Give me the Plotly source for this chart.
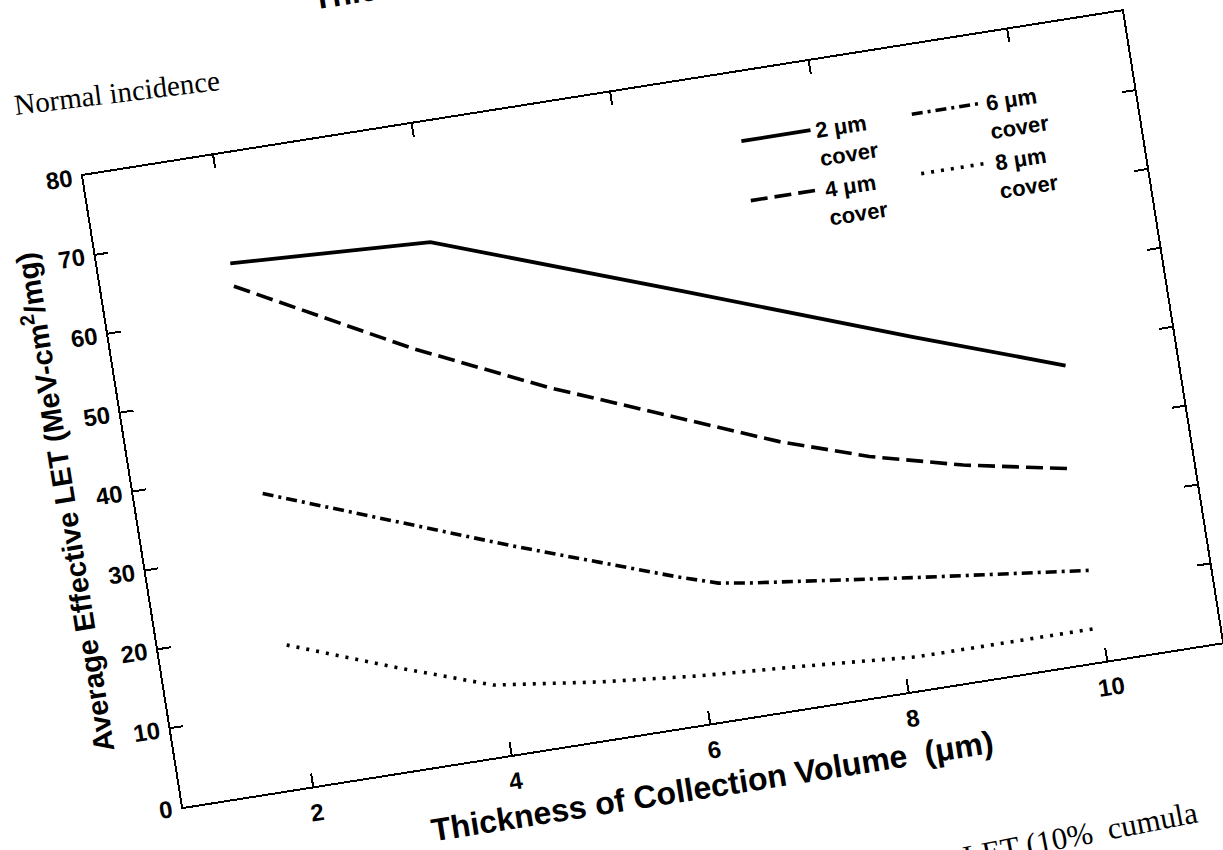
import plotly.graph_objects as go

# ---- data (x: collection-volume thickness in um, y: LET) ----
thickness_2um = [2.0, 4.0, 6.4, 8.6, 10.05]
let_2um = [66.3, 65.0, 54.0, 43.8, 37.3]

thickness_4um = [2.0, 3.66, 4.92, 6.22, 7.12, 7.98, 8.89, 9.96]
let_4um = [63.4, 52.2, 44.8, 38.1, 33.5, 29.9, 27.0, 24.4]

thickness_6um = [1.96, 4.34, 5.9, 6.3, 6.61, 8.26, 9.97]
let_6um = [37.2, 25.8, 18.8, 17.2, 16.6, 14.0, 11.5]

thickness_8um = [1.96, 3.04, 3.93, 4.98, 5.97, 6.97, 8.14, 9.96]
let_8um = [18.0, 12.9, 9.0, 7.3, 6.1, 5.3, 4.2, 4.2]

series_names = ["2 μm<br>cover", "4 μm<br>cover", "6 μm<br>cover", "8 μm<br>cover"]
x_tick_values = [2, 4, 6, 8, 10]
y_tick_values = [0, 10, 20, 30, 40, 50, 60, 70, 80]

# ---- figure ----
SANS = "Liberation Sans"
SERIF = "Liberation Serif"

fig = go.Figure()
styles = [
    dict(dash="solid", width=3.8),
    dict(dash="17px,7px", width=3.6),
    dict(dash="11px,5px,3px,5px", width=3.6),
    dict(dash="3px,7px", width=3.6),
]
xs = [thickness_2um, thickness_4um, thickness_6um, thickness_8um]
ys = [let_2um, let_4um, let_6um, let_8um]
legend_ids = ["legend", "legend", "legend2", "legend2"]
for name, x, y, st, lg in zip(series_names, xs, ys, styles, legend_ids):
    fig.add_trace(go.Scatter(
        x=x, y=y, mode="lines", name=name, legend=lg,
        line=dict(color="black", dash=st["dash"], width=st["width"]),
        hoverinfo="skip",
    ))

axis_common = dict(
    showline=True, linecolor="black", linewidth=2, mirror="ticks",
    ticks="inside", ticklen=13, tickwidth=1.6, tickcolor="black",
    showgrid=False, zeroline=False,
    tickfont=dict(family=SANS, size=24, color="black", weight="bold"),
)

legend_common = dict(
    yanchor="top", xanchor="left", valign="top", itemwidth=70,
    bgcolor="rgba(0,0,0,0)", borderwidth=0, tracegroupgap=0,
    font=dict(family=SANS, size=22, color="black", weight="bold"),
)

fig.update_layout(
    width=1260, height=1000,
    margin=dict(l=183, r=25, t=168, b=193),
    paper_bgcolor="white", plot_bgcolor="white",
    xaxis=dict(
        range=[0.689, 11.157], tickvals=x_tick_values, ticklabelstandoff=4,
        title=dict(text="Thickness of Collection Volume  (μm)", standoff=12,
                   font=dict(family=SANS, size=32, color="black", weight="bold")),
        **axis_common,
    ),
    yaxis=dict(
        range=[0, 80], tickvals=y_tick_values, ticklabelstandoff=4,
        title=dict(text="Average Effective LET (MeV-cm<sup>2</sup>/mg)", standoff=12,
                   font=dict(family=SANS, size=29, color="black", weight="bold")),
        **axis_common,
    ),
    showlegend=True,
    legend=dict(x=0.6185, y=0.925, **legend_common),
    legend2=dict(x=0.7825, y=0.925, **legend_common),
    annotations=[
        dict(text="Normal incidence", xref="paper", yref="paper", x=0.0445, y=1.121,
             xanchor="center", yanchor="middle", showarrow=False, textangle=2,
             font=dict(family=SERIF, size=29, color="black")),
        dict(text="LET (10%  cumula", xref="paper", yref="paper", x=0.723, y=-0.262,
             xanchor="left", yanchor="middle", showarrow=False, textangle=-2,
             font=dict(family=SERIF, size=31, color="black")),
        dict(text="Thickness of Collection Volume (μm)", xref="paper", yref="paper",
             x=0.24, y=1.2175, xanchor="left", yanchor="middle", showarrow=False,
             font=dict(family=SANS, size=32, color="black", weight="bold")),
    ],
)

post = """
var gd = document.getElementById('{plot_id}');
document.documentElement.style.overflow = 'hidden';
document.body.style.overflow = 'hidden';
document.body.style.margin = '0';
gd.style.transformOrigin = '183px 807px';
gd.style.transform = 'rotate(-9deg)';
"""

fig.write_html("out.html", post_script=post)
